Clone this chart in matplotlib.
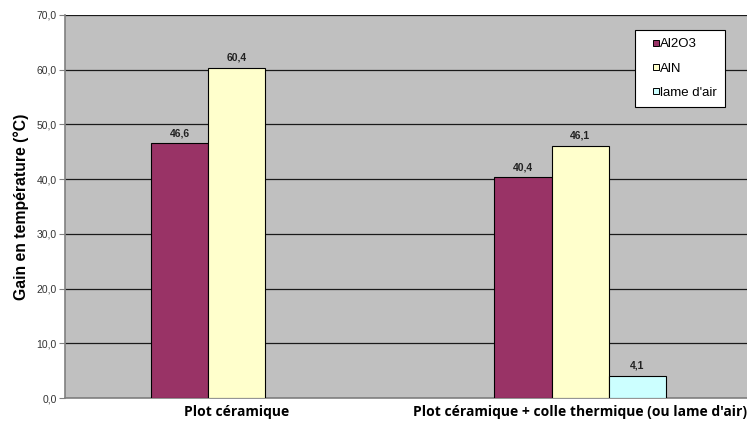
import matplotlib
matplotlib.use("Agg")
import matplotlib.pyplot as plt
from matplotlib.lines import Line2D
import numpy as np

categories = ["Plot céramique", "Plot céramique + colle thermique (ou lame d'air)"]
series_names = ["Al2O3", "AlN", "lame d'air"]
al2o3 = [46.6, 40.4]
aln = [60.4, 46.1]
lame_air = [np.nan, 4.1]
colors = ["#993366", "#FFFFCC", "#CCFFFF"]
yticks = [0, 10, 20, 30, 40, 50, 60, 70]

plt.rcParams['font.family'] = ['Liberation Sans', 'DejaVu Sans']

fig = plt.figure(figsize=(7.47, 4.23), dpi=100)
ax = fig.add_axes([65/747, 1-398/423, 687/747, 383/423])
ax.set_facecolor("#C0C0C0")

x = np.arange(len(categories))
w = 1/6
all_series = [al2o3, aln, lame_air]
for i, (vals, c) in enumerate(zip(all_series, colors)):
    xs = x + (i - 1) * w
    ax.bar(xs, vals, width=w, color=c, edgecolor="black", linewidth=0.8, zorder=3)
    for xi, v in zip(xs, vals):
        if not np.isnan(v):
            ax.text(xi, v + 0.9, f"{v:.1f}".replace(".", ","), ha="center", va="bottom",
                    fontsize=7.5, fontweight="bold", color="#222222", zorder=4)

ax.set_xlim(-0.5, 1.5)
ax.set_ylim(0, 70)
ax.set_yticks(yticks)
ax.set_yticklabels([f"{t:.1f}".replace(".", ",") for t in yticks], fontsize=7.5, color="#333333")
ax.yaxis.grid(True, color="#1a1a1a", linewidth=0.9, zorder=1)
ax.set_axisbelow(True)
ax.tick_params(axis="y", length=4, width=0.8, color="#808080", pad=2)
ax.tick_params(axis="x", length=0, pad=5)
ax.set_xticks(x)
ax.set_xticklabels(categories, fontsize=10, fontweight="bold", family=["Open Sans", "DejaVu Sans"])

for s in ["top", "right"]:
    ax.spines[s].set_visible(False)
ax.spines["left"].set_color("#808080")
ax.spines["left"].set_linewidth(1.2)
ax.spines["bottom"].set_color("#808080")
ax.spines["bottom"].set_linewidth(1.2)

ax.set_ylabel("Gain en température (°C)", fontsize=11.3, fontweight="bold", labelpad=5)

handles = [Line2D([], [], linestyle="none", marker="s", markersize=4.2,
                  markerfacecolor=c, markeredgecolor="black", markeredgewidth=0.7)
           for c in colors]
leg = ax.legend(handles, series_names, loc="upper left",
                bbox_to_anchor=((635-65)/687, (398-30)/383),
                fontsize=9.5, frameon=True, fancybox=False, framealpha=1,
                edgecolor="black", handlelength=1.9, handletextpad=-0.6,
                labelspacing=0.9, borderpad=0.62, borderaxespad=0)
leg.get_frame().set_linewidth(0.8)

fig.savefig("out.png", dpi=100)
